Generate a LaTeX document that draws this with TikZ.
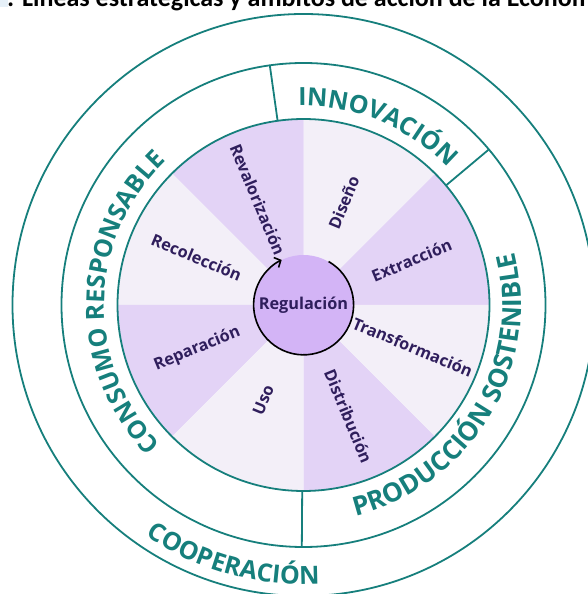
\documentclass[tikz,border=0pt]{standalone}
\usepackage{fontspec}
\setmainfont{Open Sans}
\newfontfamily\titlefont{Carlito}
\newfontfamily\ringfont{Open Sans}
\usetikzlibrary{decorations.text,arrows.meta}
\definecolor{tealc}{HTML}{167F7C}
\definecolor{slight}{HTML}{F3EFF8}
\definecolor{sdark}{HTML}{E3D3F6}
\definecolor{centerc}{HTML}{D3B4F6}
\definecolor{txtc}{HTML}{2F1E5C}
\definecolor{hilite}{HTML}{E6F0F8}
\newcommand\tealtext{\color{tealc}\ringfont\fontsize{25}{25}\selectfont\bfseries}
\newcommand\tealwide{\color{tealc}\ringfont\fontsize{26.3}{26.3}\selectfont\bfseries}
\newcommand\labsb{\fontsize{16.3}{16.3}\fontseries{sb}\selectfont}
\tikzset{
  ring/.style={draw=tealc, line width=1.8pt},
  lab/.style={text=txtc, font=\labsb, inner sep=0pt},
  arctext/.style={decorate, decoration={text along path, text align=center, text={|\tealtext|#1}}},
  arcwide/.style={decorate, decoration={text along path, text align=center, text={|\tealwide|#1}}}
}
\begin{document}
\begin{tikzpicture}[x=1pt,y=1pt]
\useasboundingbox (-303.5,-289) rectangle (284.5,305);
\clip (-303.5,-289) rectangle (284.5,305);
% title remnant
\fill[hilite] (-303.5,298) rectangle (-295.5,305);
\node[anchor=base west, inner sep=0pt, font=\titlefont\fontsize{26}{26}\selectfont\bfseries] (title) at (-296.5,298) {: Líneas estratégicas y ámbitos de acción de la Economía};
% sectors
\foreach \a/\c in {0/sdark,45/slight,90/sdark,135/slight,180/sdark,225/slight,270/sdark,315/slight}{
  \fill[\c] (0,0) -- (\a:186) arc[start angle=\a, end angle=\a+45, radius=186] -- cycle;
}
% rings
\draw[ring] (0,0) circle (186);
\draw[ring] (0,0) circle (242);
\draw[ring] (0,0) circle (291);
\draw[ring] (98:186) -- (98:242);
\draw[ring] (40:186) -- (40:242);
\draw[ring] (269.6:186) -- (269.6:242);
% ring texts
\path[arctext={CONSUMO RESPONSABLE}] (239:199) arc[start angle=239, end angle=119, radius=199];
\path[arctext={INNOVACIÓN}] (107:199) arc[start angle=107, end angle=28, radius=199];
\path[arcwide={PRODUCCIÓN SOSTENIBLE}] (-91:217.5) arc[start angle=-91, end angle=29, radius=217.5];
\path[arctext={COOPERACIÓN}] (224:279.5) arc[start angle=224, end angle=285, radius=279.5];
% sector labels
\node[lab, rotate=-67.5] (reval) at (113.5:115) {Revalorización};
\node[lab, rotate=67.5] (dis) at (68.5:110) {Diseño};
\node[lab, rotate=22.5] (ext) at (22.5:117) {Extracción};
\node[lab, rotate=-22.5] (tra) at (-21:117) {Transformación};
\node[lab, rotate=-67.5] (dist) at (-68:120) {Distribución};
\node[lab, rotate=67.5] (uso) at (-113:103) {Uso};
\node[lab, rotate=22.5] (rep) at (202.5:115) {Reparación};
\node[lab, rotate=-22.5] (rec) at (156:117) {Recolección};
% centre
\node[circle, fill=centerc, minimum size=100pt, inner sep=0pt, text=txtc, font=\labsb] (reg) at (0,0) {Regulación};
\draw[line width=1.6pt, -{Straight Barb[length=5pt,width=11pt]}] (reg.60) arc[start angle=60, end angle=-244, radius=50];
\end{tikzpicture}
\end{document}
